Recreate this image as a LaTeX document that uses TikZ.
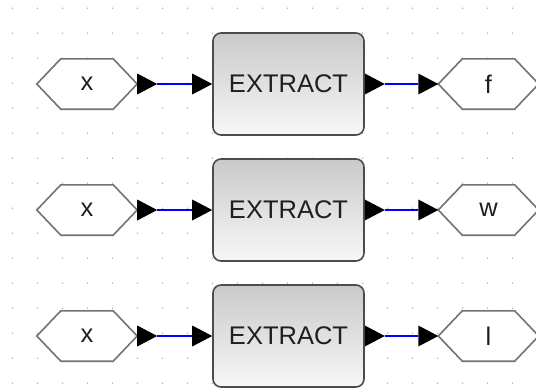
\documentclass[tikz,border=0pt]{standalone}
\usepackage{fontspec}
\setmainfont{Liberation Sans}
\pgfdeclarelayer{grid}
\pgfdeclarelayer{frames}
\pgfsetlayers{grid,frames,main}
\begin{document}
\begin{tikzpicture}[x=1pt,y=-1pt,
  lbl/.style={font=\fontsize{25.5}{25.5}\selectfont, text=black!88},
  hexport/.style={lbl, minimum width=100pt, minimum height=50pt, inner sep=0pt},
  hexline/.style={draw=black!55, fill=white, line width=1.6pt, line join=miter},
  block/.style={lbl, draw=black!70, line width=1.6pt, rounded corners=8pt,
    top color=black!21, bottom color=black!3,
    minimum width=151pt, minimum height=102pt, inner sep=0pt},
  pin/.style={minimum width=20pt, minimum height=21pt, inner sep=0pt, outer sep=0pt,
    path picture={\fill[black] (path picture bounding box.north west)
      -- (path picture bounding box.east) -- (path picture bounding box.south west) -- cycle;}},
  wire/.style={draw=blue, line width=1.5pt},
  griddot/.style={fill=black!28}]
\useasboundingbox (0,0) rectangle (536,388);

% dotted editing grid
\begin{pgfonlayer}{grid}
  \foreach \i in {0,...,20}
    \foreach \j in {0,...,15}
      \fill[griddot] (12.5+25*\i, 8.3+25*\j) circle (0.85pt);
\end{pgfonlayer}

% three extraction chains: input port -> EXTRACT -> output port
\foreach \r/\y/\o in {1/84/f, 2/210/w, 3/336/l} {
  \node[hexport] (src\r) at (87,\y) {x};
  \node[block] (blk\r) at (288.5,\y) {EXTRACT};
  \node[hexport] (dst\r) at (488.5,\y) {\o};

  \node[pin, anchor=west] (so\r) at (src\r.east) {};
  \node[pin, anchor=east] (bi\r) at (blk\r.west) {};
  \node[pin, anchor=west] (bo\r) at (blk\r.east) {};
  \node[pin, anchor=east] (di\r) at (dst\r.west) {};

  \begin{pgfonlayer}{frames}
    \foreach \h in {src\r, dst\r}
      \draw[hexline] (\h.west) -- ([xshift=24pt]\h.north west)
        -- ([xshift=-24pt]\h.north east) -- (\h.east)
        -- ([xshift=-24pt]\h.south east) -- ([xshift=24pt]\h.south west) -- cycle;
  \end{pgfonlayer}

  \draw[wire] (so\r.east) -- (bi\r.west);
  \draw[wire] (bo\r.east) -- (di\r.west);
}
\end{tikzpicture}
\end{document}
